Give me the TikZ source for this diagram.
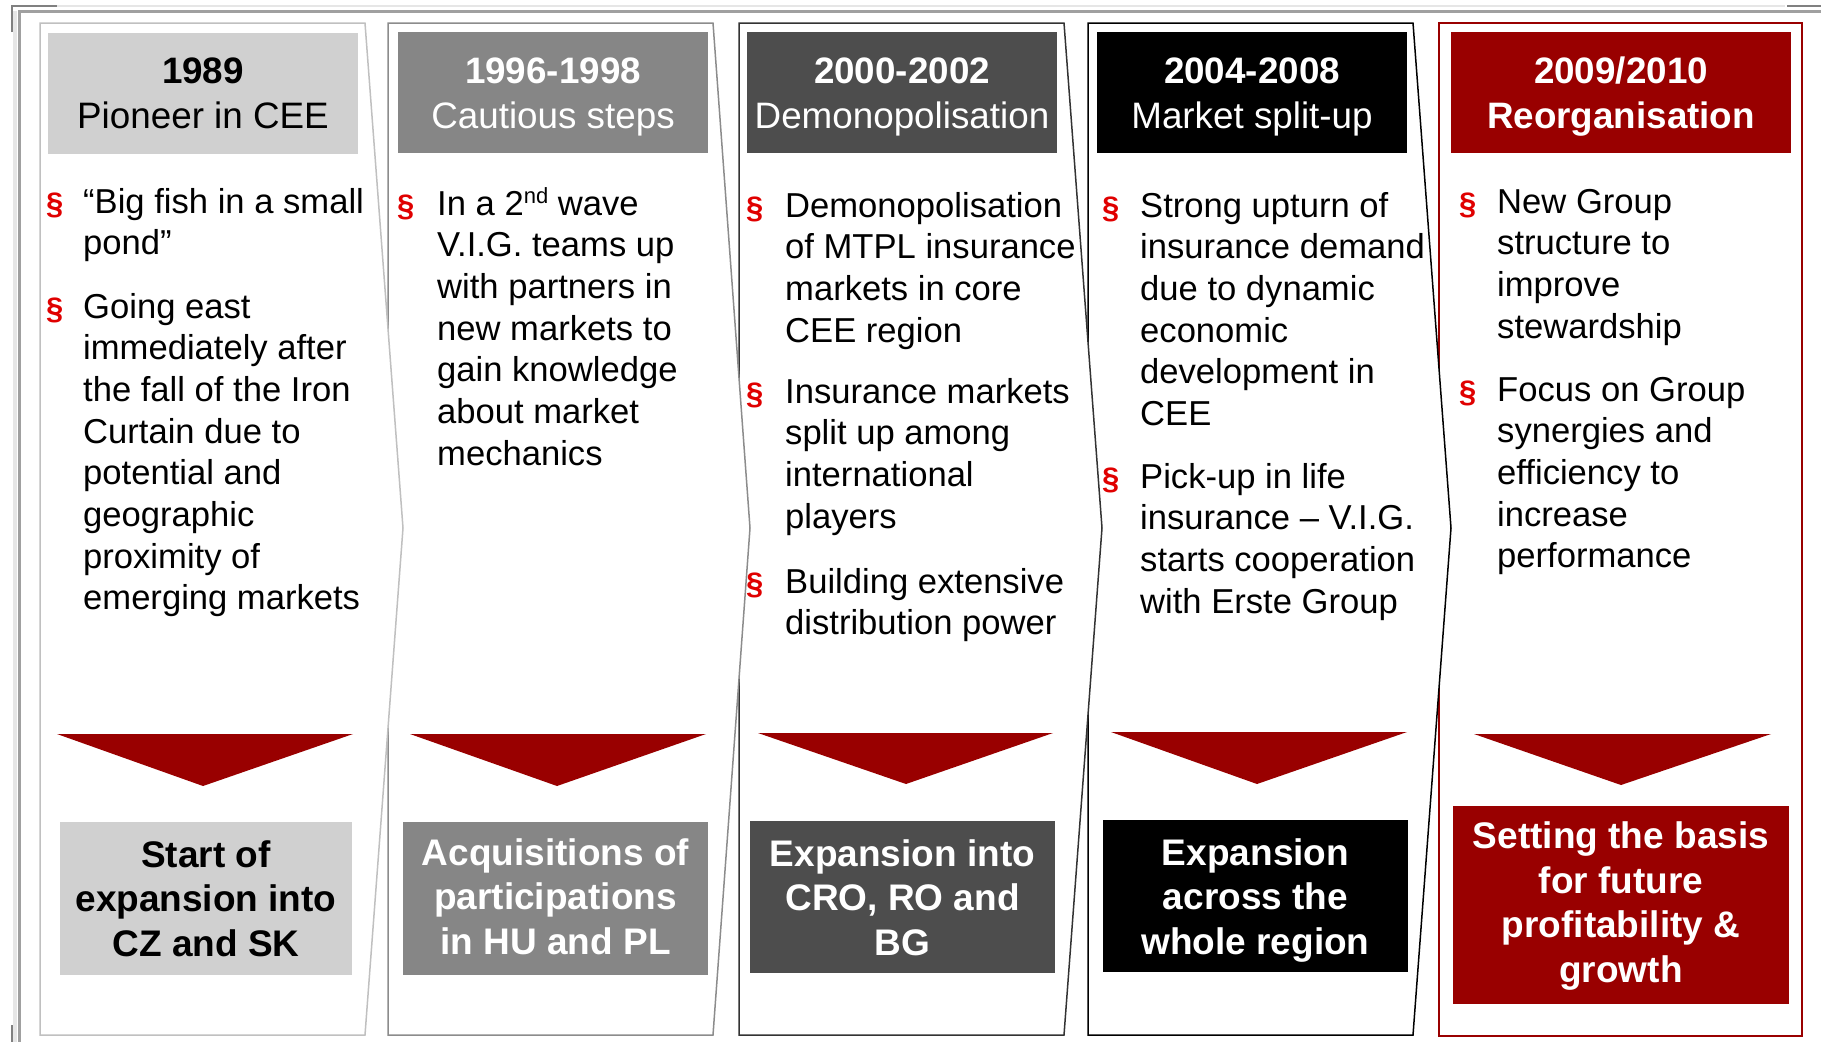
\documentclass[tikz,border=0pt]{standalone}
\usepackage{fontspec}
\setmainfont{Liberation Sans}
\definecolor{gA}{HTML}{D0D0D0}
\definecolor{gB}{HTML}{868686}
\definecolor{gC}{HTML}{4D4D4D}
\definecolor{vred}{HTML}{990000}
\definecolor{pred}{HTML}{E00000}
\definecolor{lnA}{HTML}{C0C0C0}
\definecolor{lnB}{HTML}{8C8C8C}
\definecolor{lnC}{HTML}{333333}
\definecolor{frA}{HTML}{E6E6E6}
\definecolor{frB}{HTML}{A0A0A0}
\definecolor{frC}{HTML}{808080}
\begin{document}
\begin{tikzpicture}[x=1pt,y=-1pt,
  colshape/.style={line width=1.5pt, fill=white, line join=miter},
  box/.style={inner sep=0pt, draw=none},
  hdrtext/.style={anchor=base, align=center, inner sep=0pt, font=\fontsize{36.8}{45}\selectfont},
  bottext/.style={anchor=base, align=center, inner sep=0pt, font=\fontsize{37}{44.5}\selectfont\bfseries},
  bodytext/.style={anchor=base west, align=left, inner sep=0pt, font=\fontsize{34.6}{41.7}\selectfont},
  para/.style={anchor=base west, inner sep=0pt, text=pred, font=\fontsize{31}{31}\selectfont\bfseries},
  tri/.style={fill=vred}]
\useasboundingbox (0,0) rectangle (1821,1042);
% outer frame remnants
\draw[frA, line width=2.5pt] (57,6) -- (1785,6);
\draw[frC, line width=2pt] (1787,6) -- (1821,6);
\draw[frB, line width=2.7pt] (18,11.3) -- (1821,11.3);
\draw[frA, line width=3.5pt] (15,11) -- (15,1042);
\draw[frB, line width=2.7pt] (19.5,10) -- (19.5,1042);
\draw[frC, line width=2pt] (12,32) -- (12,6) -- (57,6);
\draw[frC, line width=2pt] (12,1025) -- (12,1042);
% columns (right to left)
\draw[vred, line width=2.5pt, fill=white] (1439,23) rectangle (1802,1036);
\draw[colshape, draw=black] (1088,23) -- (1413,23) -- (1451,528) -- (1413,1035) -- (1088,1035) -- cycle;
\draw[colshape, draw=lnC] (739,23) -- (1064,23) -- (1102,528) -- (1064,1035) -- (739,1035) -- cycle;
\draw[colshape, draw=lnB] (388,23) -- (713,23) -- (750,528) -- (713,1035) -- (388,1035) -- cycle;
\draw[colshape, draw=lnA] (40,23) -- (365,23) -- (403,528) -- (365,1035) -- (40,1035) -- cycle;
% header boxes
\node[box, fill=gA, minimum width=310pt, minimum height=121pt] (h1) at (203,93.5) {};
\node[box, fill=gB, minimum width=310pt, minimum height=121pt] (h2) at (553,92.5) {};
\node[box, fill=gC, minimum width=310pt, minimum height=121pt] (h3) at (902,92.5) {};
\node[box, fill=black, minimum width=310pt, minimum height=121pt] (h4) at (1252,92.5) {};
\node[box, fill=vred, minimum width=340pt, minimum height=121pt] (h5) at (1621,92.5) {};
\node[hdrtext, text=black] (h1t) at (203,128) {\textbf{1989}\\Pioneer in CEE};
\node[hdrtext, text=white] (h2t) at (553,128) {\textbf{1996-1998}\\Cautious steps};
\node[hdrtext, text=white] (h3t) at (902,128) {\textbf{2000-2002}\\Demonopolisation};
\node[hdrtext, text=white] (h4t) at (1252,128) {\textbf{2004-2008}\\Market split-up};
\node[hdrtext, text=white] (h5t) at (1621,128) {\textbf{2009/2010}\\\textbf{Reorganisation}};
% body bullets (node base = last line baseline)
\node[para] (p11) at (46,214) {§};
\node[bodytext] (b11) at (83,254.7) {“Big fish in a small\\pond”};
\node[para] (p12) at (46,319) {§};
\node[bodytext] (b12) at (83,609.9) {Going east\\immediately after\\the fall of the Iron\\Curtain due to\\potential and\\geographic\\proximity of\\emerging markets};
\node[para] (p21) at (397,216) {§};
\node[bodytext] (b21) at (437,465.2) {In a 2\raisebox{12pt}{\fontsize{22}{22}\selectfont nd} wave\\V.I.G. teams up\\with partners in\\new markets to\\gain knowledge\\about market\\mechanics};
\node[para] (p31) at (746,218) {§};
\node[bodytext] (b31) at (785,342.1) {Demonopolisation\\of MTPL insurance\\markets in core\\CEE region};
\node[para] (p32) at (746,404) {§};
\node[bodytext] (b32) at (785,528.1) {Insurance markets\\split up among\\international\\players};
\node[para] (p33) at (746,594) {§};
\node[bodytext] (b33) at (785,634.7) {Building extensive\\distribution power};
\node[para] (p41) at (1102,218) {§};
\node[bodytext] (b41) at (1140,425.5) {Strong upturn of\\insurance demand\\due to dynamic\\economic\\development in\\CEE};
\node[para] (p42) at (1102,489) {§};
\node[bodytext] (b42) at (1140,613.1) {Pick-up in life\\insurance – V.I.G.\\starts cooperation\\with Erste Group};
\node[para] (p51) at (1459,214) {§};
\node[bodytext] (b51) at (1497,338.1) {New Group\\structure to\\improve\\stewardship};
\node[para] (p52) at (1459,402) {§};
\node[bodytext] (b52) at (1497,567.8) {Focus on Group\\synergies and\\efficiency to\\increase\\performance};
% triangles
\fill[tri] (57,734) -- (353,734) -- (203,786) -- cycle;
\fill[tri] (410,734) -- (706,734) -- (557,786) -- cycle;
\fill[tri] (758,733) -- (1053,733) -- (906,784) -- cycle;
\fill[tri] (1111,732) -- (1407,732) -- (1257,784) -- cycle;
\fill[tri] (1474,734) -- (1771,734) -- (1621,785) -- cycle;
% bottom boxes
\node[box, fill=gA, minimum width=292pt, minimum height=153pt] (r1) at (206,898.5) {};
\node[box, fill=gB, minimum width=305pt, minimum height=153pt] (r2) at (555.5,898.5) {};
\node[box, fill=gC, minimum width=305pt, minimum height=152pt] (r3) at (902.5,897) {};
\node[box, fill=black, minimum width=305pt, minimum height=152pt] (r4) at (1255.5,896) {};
\node[box, fill=vred, minimum width=336pt, minimum height=198pt] (r5) at (1621,905) {};
\node[bottext, text=black] (r1t) at (206,956) {Start of\\expansion into\\CZ and SK};
\node[bottext, text=white] (r2t) at (555.5,954) {Acquisitions of\\participations\\in HU and PL};
\node[bottext, text=white] (r3t) at (902.5,955) {Expansion into\\CRO, RO and\\BG};
\node[bottext, text=white] (r4t) at (1255.5,954) {Expansion\\across the\\whole region};
\node[bottext, text=white] (r5t) at (1621,982) {Setting the basis\\for future\\profitability \&\\growth};
\end{tikzpicture}
\end{document}
